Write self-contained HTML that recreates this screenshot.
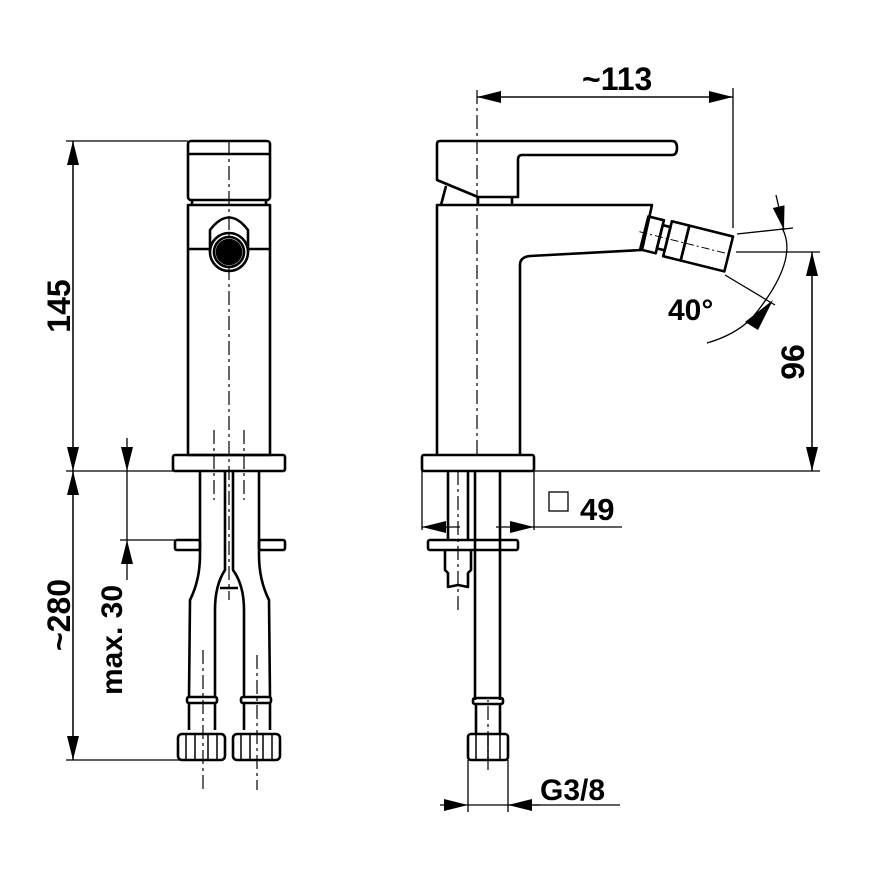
<!DOCTYPE html>
<html><head><style>html,body{margin:0;padding:0;background:#fff}svg{display:block}</style></head><body>
<svg width="870" height="870" viewBox="0 0 870 870" xmlns="http://www.w3.org/2000/svg">
<defs>
<marker id="a" viewBox="0 0 24 12" refX="24" refY="6" markerWidth="24" markerHeight="12" markerUnits="userSpaceOnUse" orient="auto"><path d="M0,0 L24,6 L0,12 Z" fill="#000"/></marker>
</defs>
<g fill="none" stroke="#000" stroke-width="2.6" stroke-linejoin="round">
<!-- LEFT VIEW -->
<rect x="188" y="141" width="82" height="59" rx="3"/>
<line x1="188" y1="154" x2="270" y2="154"/>
<line x1="192" y1="200" x2="192" y2="205"/><line x1="266" y1="200" x2="266" y2="205"/>
<rect x="188" y="205" width="82" height="250"/>
<line x1="188" y1="249" x2="210" y2="249"/><line x1="248" y1="249" x2="270" y2="249"/>
<path d="M210,252 L210,230 Q229,205 248,230 L248,252"/>
<circle cx="229" cy="252" r="19" fill="#fff"/>
<circle cx="229" cy="252" r="15"/>
<circle cx="229" cy="252" r="12" fill="#000"/>
<rect x="173" y="455" width="112" height="16" rx="2"/>
<!-- hoses -->
<path d="M200,471 L200,555 Q200,580 190,600 L189,697"/>
<path d="M225,471 L225,570 Q215,585 215,610 L215,697"/>
<path d="M233,471 L233,570 Q244,585 244,610 L244,697"/>
<path d="M259,471 L259,555 Q259,580 269,600 L270,697"/>
<line x1="220" y1="588" x2="238" y2="588"/>
<rect x="175" y="540" width="25" height="10" rx="2"/>
<rect x="259" y="540" width="26" height="10" rx="2"/>
<rect x="187" y="697" width="30" height="6" rx="2"/>
<rect x="241" y="697" width="30" height="6" rx="2"/>
<line x1="189" y1="703" x2="189" y2="730"/><line x1="215" y1="703" x2="215" y2="730"/>
<line x1="244" y1="703" x2="244" y2="730"/><line x1="270" y1="703" x2="270" y2="730"/>
<rect x="178" y="734" width="47" height="26" rx="4"/>
<rect x="233" y="734" width="47" height="26" rx="4"/>
<line x1="186" y1="734" x2="186" y2="760" stroke-width="1.5"/><line x1="195" y1="734" x2="195" y2="760" stroke-width="1.5"/><line x1="208" y1="734" x2="208" y2="760" stroke-width="1.5"/><line x1="217" y1="734" x2="217" y2="760" stroke-width="1.5"/>
<line x1="241" y1="734" x2="241" y2="760" stroke-width="1.5"/><line x1="250" y1="734" x2="250" y2="760" stroke-width="1.5"/><line x1="263" y1="734" x2="263" y2="760" stroke-width="1.5"/><line x1="272" y1="734" x2="272" y2="760" stroke-width="1.5"/>
<!-- RIGHT VIEW -->
<path d="M440,141 L672,141 Q677,141 677,148 Q677,155 672,155 L522,155 Q518,155 518,160 L518,197 L478,197 L437,180 L437,144 Q437,141 440,141 Z"/>
<line x1="446" y1="186" x2="441" y2="205"/><line x1="478" y1="197" x2="478" y2="205"/><line x1="512" y1="197" x2="512" y2="205"/>
<path d="M437,455 L437,205 L652,205 L642,250 L530,256 Q520,257 520,265 L520,455"/>
<rect x="422" y="455" width="112" height="16" rx="2"/>
<g transform="rotate(14 645 230)">
<rect x="645" y="216" width="16" height="34"/>
<rect x="661" y="221" width="8" height="24"/>
<rect x="669" y="215" width="18" height="36"/>
<rect x="687" y="215" width="45" height="36"/>
<line x1="640" y1="233" x2="732" y2="233" stroke-width="1" stroke-dasharray="8,3,2,3"/>
</g>
<!-- right pipes -->
<line x1="448" y1="471" x2="448" y2="540"/><line x1="468" y1="471" x2="468" y2="540"/>
<line x1="475" y1="471" x2="475" y2="700"/><line x1="500" y1="471" x2="500" y2="700"/>
<rect x="428" y="540" width="90" height="10" rx="2"/>
<path d="M445,550 L445,570 L448,573 L448,587 L458,585 L468,587 L468,573 L471,570 L471,550"/>
<rect x="473" y="698" width="30" height="6" rx="2"/>
<line x1="476" y1="704" x2="476" y2="734"/><line x1="500" y1="704" x2="500" y2="734"/>
<rect x="468" y="734" width="40" height="26" rx="3"/>
<line x1="476" y1="734" x2="476" y2="760" stroke-width="1.5"/><line x1="488" y1="734" x2="488" y2="760" stroke-width="1.5"/><line x1="500" y1="734" x2="500" y2="760" stroke-width="1.5"/>
</g>
<!-- centerlines -->
<g stroke="#000" stroke-width="1.2" stroke-dasharray="14,4,3,4" fill="none">
<line x1="229" y1="141" x2="229" y2="600"/>
<line x1="203" y1="650" x2="203" y2="790"/><line x1="257" y1="655" x2="257" y2="790"/>
<line x1="477" y1="90" x2="477" y2="455"/>
<line x1="458" y1="471" x2="458" y2="612"/>
<line x1="488" y1="770" x2="488" y2="700"/>
<line x1="214" y1="430" x2="214" y2="500"/><line x1="244" y1="430" x2="244" y2="500"/>
</g>
<!-- dimension lines -->
<g stroke="#000" stroke-width="1.3" fill="none">
<line x1="66" y1="141" x2="188" y2="141"/>
<line x1="66" y1="471" x2="173" y2="471"/>
<line x1="120" y1="540" x2="175" y2="540"/>
<line x1="66" y1="760" x2="180" y2="760"/>
<line x1="73" y1="471" x2="73" y2="141" marker-end="url(#a)"/>
<line x1="73" y1="141" x2="73" y2="471" marker-end="url(#a)"/>
<line x1="73" y1="760" x2="73" y2="471" marker-end="url(#a)"/>
<line x1="73" y1="471" x2="73" y2="760" marker-end="url(#a)"/>
<line x1="127" y1="438" x2="127" y2="471" marker-end="url(#a)"/>
<line x1="127" y1="580" x2="127" y2="540" marker-end="url(#a)"/>
<line x1="127" y1="471" x2="127" y2="540"/>
<line x1="477" y1="97" x2="733" y2="97" marker-end="url(#a)"/>
<line x1="733" y1="97" x2="477" y2="97" marker-end="url(#a)"/>
<line x1="733" y1="88" x2="733" y2="228"/>
<line x1="736" y1="252" x2="820" y2="252"/>
<line x1="534" y1="471" x2="820" y2="471"/>
<line x1="812" y1="471" x2="812" y2="252" marker-end="url(#a)"/>
<line x1="812" y1="252" x2="812" y2="471" marker-end="url(#a)"/>
<line x1="737" y1="234" x2="793" y2="228"/>
<line x1="725" y1="275" x2="775" y2="305"/>
<path d="M782,228 Q800,260 752,318 Q735,335 707,343"/>
<path d="M776,195 L784,230" marker-end="url(#a)"/>
<line x1="422" y1="471" x2="422" y2="530"/><line x1="534" y1="471" x2="534" y2="530"/>
<line x1="460" y1="527" x2="422" y2="527" marker-end="url(#a)"/>
<line x1="496" y1="527" x2="534" y2="527" marker-end="url(#a)"/>
<line x1="534" y1="527" x2="622" y2="527"/>
<line x1="468" y1="760" x2="468" y2="812"/><line x1="508" y1="760" x2="508" y2="812"/>
<line x1="440" y1="805" x2="468" y2="805" marker-end="url(#a)"/>
<line x1="540" y1="805" x2="508" y2="805" marker-end="url(#a)"/>
<line x1="468" y1="805" x2="620" y2="805"/>
<rect x="549" y="492" width="19" height="19"/>
</g>
<path d="M745,322 L773,300 L758,330 Z" fill="#000"/>
<g font-family="Liberation Sans, sans-serif" font-weight="bold" fill="#000">
<text x="582" y="90" font-size="32">~113</text>
<text x="668" y="320" font-size="30">40°</text>
<text x="580" y="520" font-size="31">49</text>
<text x="540" y="800" font-size="30">G3/8</text>
<text transform="translate(70,306) rotate(-90)" text-anchor="middle" font-size="32">145</text>
<text transform="translate(70,615) rotate(-90)" text-anchor="middle" font-size="32">~280</text>
<text transform="translate(122,640) rotate(-90)" text-anchor="middle" font-size="30">max. 30</text>
<text transform="translate(804,362) rotate(-90)" text-anchor="middle" font-size="32">96</text>
</g>
</svg>
</body></html>
